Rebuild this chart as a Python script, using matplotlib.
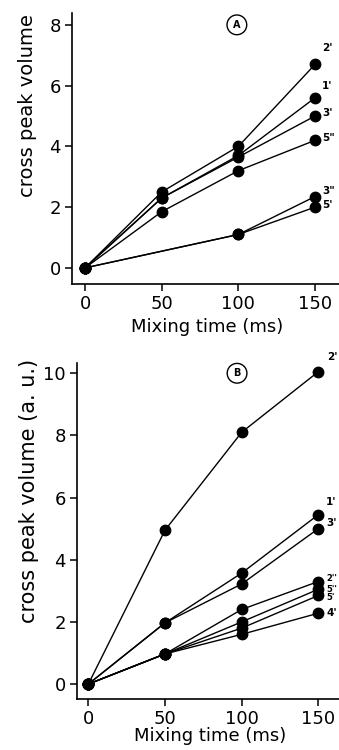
import matplotlib
matplotlib.use("Agg")
import matplotlib.pyplot as plt

# panel A
times_a = [0, 50, 100, 150]
times_a_short = [0, 100, 150]
a_2p = [0, 2.5, 4.0, 6.7]
a_1p = [0, 2.3, 3.7, 5.6]
a_3p = [0, 2.3, 3.65, 5.0]
a_5pp = [0, 1.85, 3.2, 4.2]
a_3pp = [0, 1.1, 2.35]
a_5p = [0, 1.1, 2.0]
labels_a = ["2'", "1'", "3'", '5"', '3"', "5'"]

# panel B
times_b = [0, 50, 100, 150]
b_2p = [0, 4.95, 8.1, 10.05]
b_1p = [0, 1.97, 3.57, 5.45]
b_3p = [0, 1.97, 3.22, 5.0]
b_2pp = [0, 0.97, 2.4, 3.3]
b_5pp = [0, 0.97, 2.0, 3.05]
b_5p = [0, 0.97, 1.8, 2.85]
b_4p = [0, 0.97, 1.6, 2.28]
labels_b = ["2'", "1'", "3'", "2''", "5''", "5'", "4'"]

W, H = 339, 750
fig = plt.figure(figsize=(W / 100, H / 100), dpi=100)


def px_axes(l, t, r, b):
    return fig.add_axes([l / W, 1 - b / H, (r - l) / W, (b - t) / H])


def style(ax, yticks):
    for s in ("top", "right"):
        ax.spines[s].set_visible(False)
    ax.spines["left"].set_linewidth(1.2)
    ax.spines["bottom"].set_linewidth(1.2)
    ax.set_xticks([0, 50, 100, 150])
    ax.set_yticks(yticks)
    ax.tick_params(direction="out", length=5, width=1.1, labelsize=13, pad=3)


def draw(ax, x, y, label, dx, dy, fs=7.5):
    ax.plot(x, y, color="black", lw=1.0, marker="o", ms=7.5, mfc="black",
            mec="black", zorder=3, clip_on=False)
    ax.annotate(label, (x[-1], y[-1]), xytext=(dx, dy),
                textcoords="offset pixels", fontsize=fs, fontweight="bold",
                ha="left", va="center", annotation_clip=False)


def circled(ax, x, y, letter):
    ax.text(x, y, letter, fontsize=7, fontweight="bold", ha="center", va="center",
            bbox=dict(boxstyle="circle,pad=0.5", fc="white", ec="black", lw=1.0))


# ---- panel A
ax1 = px_axes(72, 13, 339, 284)
series_a = [(times_a, a_2p), (times_a, a_1p), (times_a, a_3p),
            (times_a, a_5pp), (times_a_short, a_3pp), (times_a_short, a_5p)]
offs_a = [(7, 16), (7, 12), (7, 3), (7, 2), (7, 6), (7, 2)]
for (x, y), lab, (dx, dy) in zip(series_a, labels_a, offs_a):
    draw(ax1, x, y, lab, dx, dy)
ax1.set_xlim(-8.5, 165.6)
ax1.set_ylim(-0.53, 8.39)
style(ax1, [0, 2, 4, 6, 8])
ax1.set_ylabel("cross peak volume", fontsize=14, va="center")
ax1.yaxis.set_label_coords(-0.165, 0.66)
ax1.set_xlabel("Mixing time (ms)", fontsize=13, va="center")
ax1.xaxis.set_label_coords(0.506, -0.16)
circled(ax1, 99, 8.0, "A")

# ---- panel B
ax2 = px_axes(77, 363, 339, 699)
series_b = [b_2p, b_1p, b_3p, b_2pp, b_5pp, b_5p, b_4p]
offs_b = [(9, 15), (8, 13), (8, 6), (8, 3), (8, 0), (8, -2), (8, 0)]
sizes_b = [7.5, 7.5, 7.5, 6, 6, 6, 7.5]
for y, lab, (dx, dy), fs in zip(series_b, labels_b, offs_b, sizes_b):
    draw(ax2, times_b, y, lab, dx, dy, fs)
ax2.set_xlim(-7.4, 163.5)
ax2.set_ylim(-0.48, 10.33)
style(ax2, [0, 2, 4, 6, 8, 10])
ax2.set_ylabel("cross peak volume (a. u.)", fontsize=15, va="center")
ax2.yaxis.set_label_coords(-0.183, 0.62)
ax2.set_xlabel("Mixing time (ms)", fontsize=13, va="center")
ax2.xaxis.set_label_coords(0.51, -0.11)
circled(ax2, 97, 10.0, "B")

fig.savefig("out.png", dpi=100)
